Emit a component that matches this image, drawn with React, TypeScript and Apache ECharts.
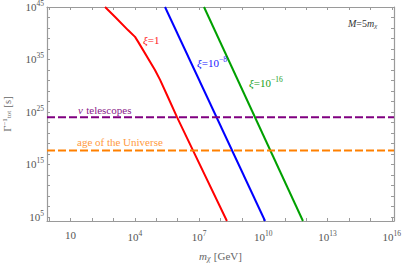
import React, { useEffect, useRef } from "react";
import * as echarts from "echarts";

// log10 of m_chi [GeV] and log10 of Gamma^-1 [s]
const xi1LogM = [2.61, 3.07, 3.68, 4.01, 4.15, 4.94, 5.18, 5.55, 5.97, 6.44, 8.3];
const xi1LogT = [45, 43.15, 40.6, 39.3, 38.4, 33.0, 31.1, 27.8, 24.0, 20.0, 4.2];
const xi8LogM = [5.41, 10.08];
const xi8LogT = [45, 4.2];
const xi16LogM = [7.23, 11.85];
const xi16LogT = [45, 4.2];
const nuTelescopesLogT = 24.0;
const ageUniverseLogT = 17.63;

const xMin = -0.1;
const xMax = 16.1;
const yMin = 4.2;
const yMax = 45;
const xLabelExps = [1, 4, 7, 10, 13, 16];
const xTickExps = [0, 1, 2, 3, 4, 5, 6, 7, 8, 9, 10, 11, 12, 13, 14, 15, 16];
const yLabelExps = [5, 15, 25, 35, 45];
const yTickExps = [5, 7, 9, 11, 13, 15, 17, 19, 21, 23, 25, 27, 29, 31, 33, 35, 37, 39, 41, 43, 45];

const FONT = "Liberation Serif";
const GRAY = "#555";
const FRAME = "#9a9a9a";

const pow10 = (v: number) => (v === 1 ? "{b|10}" : `{b|10}{s|${v}}`);
const labelRich = {
  b: { fontFamily: FONT, fontSize: 11, color: GRAY },
  s: { fontFamily: FONT, fontSize: 7.5, color: GRAY, padding: [0, 0, 7, 0] },
};

const zip = (a: number[], b: number[]) => a.map((v, i) => [v, b[i]]);

export default function App() {
  const ref = useRef<HTMLDivElement>(null);
  useEffect(() => {
    if (!ref.current) return;
    const chart = echarts.init(ref.current, undefined, { renderer: "svg" });
    const axisCommon = {
      type: "value",
      axisLine: { show: true, onZero: false, lineStyle: { color: FRAME, width: 1.2 } },
      splitLine: { show: false },
    };
    chart.setOption({
      animation: false,
      backgroundColor: "#fff",
      grid: { left: 47, right: 13, top: 7, bottom: 44, containLabel: false, outerBoundsMode: "none" },
      xAxis: [
        {
          ...axisCommon,
          position: "bottom",
          min: xMin,
          max: xMax,
          axisTick: { show: true, inside: true, length: 3, customValues: xTickExps, lineStyle: { color: FRAME } },
          axisLabel: {
            show: true,
            customValues: xLabelExps,
            formatter: (v: number) => pow10(v),
            rich: labelRich,
            margin: 8,
          },
          name: "{i|m}{sub|χ} {n|[GeV]}",
          nameLocation: "middle",
          nameGap: 29,
          nameTextStyle: {
            rich: {
              i: { fontFamily: FONT, fontStyle: "italic", fontSize: 11, color: "#666" },
              sub: { fontFamily: FONT, fontStyle: "italic", fontSize: 8, color: "#666", padding: [4, 0, 0, 0] },
              n: { fontFamily: FONT, fontSize: 11, color: "#666" },
            },
          },
        },
        {
          ...axisCommon,
          position: "top",
          min: xMin,
          max: xMax,
          axisTick: { show: true, inside: true, length: 3, customValues: xTickExps, lineStyle: { color: FRAME } },
          axisLabel: { show: false },
        },
      ],
      yAxis: [
        {
          ...axisCommon,
          position: "left",
          min: yMin,
          max: yMax,
          axisTick: { show: true, inside: true, length: 3, customValues: yTickExps, lineStyle: { color: FRAME } },
          axisLabel: {
            show: true,
            customValues: yLabelExps,
            formatter: (v: number) => pow10(v),
            rich: labelRich,
            margin: 3,
          },
          name: "{g|Γ}{sup|−1}{sub|tot} {n|[s]}",
          nameLocation: "middle",
          nameRotate: 90,
          nameGap: 34,
          nameTextStyle: {
            rich: {
              g: { fontFamily: FONT, fontSize: 10.5, color: "#666" },
              sup: { fontFamily: FONT, fontSize: 7, color: "#666", padding: [0, 0, 4, 0] },
              sub: { fontFamily: FONT, fontSize: 7, color: "#666", padding: [4, 0, 0, 0] },
              n: { fontFamily: FONT, fontSize: 10.5, color: "#666" },
            },
          },
        },
        {
          ...axisCommon,
          position: "right",
          min: yMin,
          max: yMax,
          axisTick: { show: true, inside: true, length: 3, customValues: yTickExps, lineStyle: { color: FRAME } },
          axisLabel: { show: false },
        },
      ],
      series: [
        {
          type: "line",
          data: zip(xi1LogM, xi1LogT),
          showSymbol: false,
          lineStyle: { color: "#ff0000", width: 2 },
          clip: true,
        },
        {
          type: "line",
          data: zip(xi8LogM, xi8LogT),
          showSymbol: false,
          lineStyle: { color: "#0000ff", width: 2 },
          clip: true,
        },
        {
          type: "line",
          data: zip(xi16LogM, xi16LogT),
          showSymbol: false,
          lineStyle: { color: "#00a000", width: 2 },
          clip: true,
        },
        {
          type: "line",
          data: [[xMin, nuTelescopesLogT], [xMax, nuTelescopesLogT]],
          showSymbol: false,
          lineStyle: { color: "#800080", width: 2, type: [8, 3] },
        },
        {
          type: "line",
          data: [[xMin, ageUniverseLogT], [xMax, ageUniverseLogT]],
          showSymbol: false,
          lineStyle: { color: "#ff8000", width: 2, type: [8, 3] },
        },
      ],
      graphic: [
        {
          type: "text",
          z: 100,
          x: 143,
          y: 40,
          style: {
            text: "{i|ξ}{t|=1}",
            rich: {
              i: { fontFamily: FONT, fontStyle: "italic", fontSize: 11, fill: "#ff2020" },
              t: { fontFamily: FONT, fontSize: 11, fill: "#ff2020" },
            },
            verticalAlign: "middle",
          },
        },
        {
          type: "text",
          z: 100,
          x: 197,
          y: 63,
          style: {
            text: "{i|ξ}{t|=10}{s|−8}",
            rich: {
              i: { fontFamily: FONT, fontStyle: "italic", fontSize: 11, fill: "#2020ff" },
              t: { fontFamily: FONT, fontSize: 11, fill: "#2020ff" },
              s: { fontFamily: FONT, fontSize: 7.5, fill: "#2020ff", padding: [0, 0, 7, 0] },
            },
            verticalAlign: "middle",
          },
        },
        {
          type: "text",
          z: 100,
          x: 249,
          y: 83,
          style: {
            text: "{i|ξ}{t|=10}{s|−16}",
            rich: {
              i: { fontFamily: FONT, fontStyle: "italic", fontSize: 11, fill: "#20a020" },
              t: { fontFamily: FONT, fontSize: 11, fill: "#20a020" },
              s: { fontFamily: FONT, fontSize: 7.5, fill: "#20a020", padding: [0, 0, 7, 0] },
            },
            verticalAlign: "middle",
          },
        },
        {
          type: "text",
          z: 100,
          x: 348,
          y: 23,
          style: {
            text: "{i|M}{t|=5}{i|m}{sub|χ}",
            rich: {
              i: { fontFamily: FONT, fontStyle: "italic", fontSize: 10, fill: "#333" },
              t: { fontFamily: FONT, fontSize: 10, fill: "#333" },
              sub: { fontFamily: FONT, fontStyle: "italic", fontSize: 7, fill: "#333", padding: [5, 0, 0, 0] },
            },
            verticalAlign: "middle",
          },
        },
        {
          type: "text",
          z: 100,
          x: 78,
          y: 110,
          style: {
            text: "{i|ν} {t|telescopes}",
            rich: {
              i: { fontFamily: FONT, fontStyle: "italic", fontSize: 11, fill: "#8a1a8a" },
              t: { fontFamily: FONT, fontSize: 11, fill: "#8a1a8a" },
            },
            verticalAlign: "middle",
          },
        },
        {
          type: "text",
          z: 100,
          x: 77,
          y: 142,
          style: {
            text: "age of the Universe",
            fontFamily: FONT,
            fontSize: 11,
            fill: "#ff9a40",
            verticalAlign: "middle",
          },
        },
      ],
    });
    return () => chart.dispose();
  }, []);
  return <div ref={ref} style={{ width: 407, height: 265, position: "absolute", left: 0, top: 0 }} />;
}
